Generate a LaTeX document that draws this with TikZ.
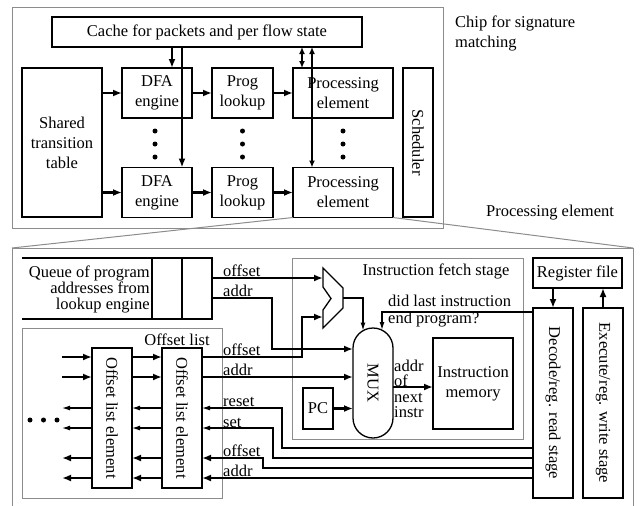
\documentclass[tikz,border=0pt]{standalone}
\usepackage{fontspec}
\setmainfont{Liberation Serif}
\usetikzlibrary{arrows.meta,calc}

\begin{document}
\begin{tikzpicture}[x=1pt,y=-1pt,
  font=\fontsize{16.5}{20}\selectfont,
  box/.style={draw,line width=1.3pt,inner sep=1pt,outer sep=0pt,align=center},
  outline/.style={line width=1.3pt},
  frame/.style={draw=black!45,line width=1pt,inner sep=0pt,outer sep=0pt},
  fat/.style={line width=2.4pt,-{Latex[length=9pt,width=7pt]}},
  fatboth/.style={line width=2.2pt,{Latex[length=7pt,width=6pt]}-{Latex[length=7pt,width=6pt]}},
  thin/.style={line width=1.2pt,-{Latex[length=8pt,width=5pt]}},
  lab/.style={inner sep=0pt,anchor=base west},
  tight/.style={font=\fontsize{16.5}{16}\selectfont},
]
\useasboundingbox (0,0) rectangle (643,506);

% ---------- chip overview ----------
\node[frame,minimum width=431pt,minimum height=221pt] (chip) at (227.5,117.5) {};
\node[box,minimum width=310pt,minimum height=30pt] (cache) at (207,32) {Cache for packets and per flow state};
\node[box,minimum width=80pt,minimum height=149pt] (stt) at (62,142.5) {Shared\\transition\\table};
\node[box,minimum width=70pt,minimum height=50pt] (dfa1) at (157,93) {DFA\\engine};
\node[box,minimum width=70pt,minimum height=50pt] (dfa2) at (157,192.5) {DFA\\engine};
\node[box,minimum width=61pt,minimum height=50pt] (prog1) at (242.5,93) {Prog\\lookup};
\node[box,minimum width=61pt,minimum height=50pt] (prog2) at (242.5,192.5) {Prog\\lookup};
\node[box,minimum width=100pt,minimum height=50pt] (pe1) at (343,93) {Processing\\element};
\node[box,minimum width=100pt,minimum height=50pt] (pe2) at (343,192.5) {Processing\\element};
\node[box,minimum width=30pt,minimum height=149pt] (sched) at (418,142.5) {};
\node[rotate=-90] at (sched) {Scheduler};

\foreach \x in {155,242.5,343}
  \foreach \y in {131,144,157}
    \fill (\x,\y) circle (2.5);

\draw[fat] (stt.east |- dfa1.west) -- (dfa1.west);
\draw[fat] (stt.east |- dfa2.west) -- (dfa2.west);
\draw[fat] (dfa1) -- (prog1);
\draw[fat] (dfa2) -- (prog2);
\draw[fat] (prog1) -- (pe1);
\draw[fat] (prog2) -- (pe2);

\coordinate (k1) at ($(dfa1.north)+(15,0)$);
\coordinate (k2) at ($(dfa2.north)+(25,0)$);
\coordinate (k3) at ($(pe1.north)+(-41,0)$);
\coordinate (k4) at ($(pe2.north)+(-31,0)$);
\draw[fat] (k1 |- cache.south) -- (k1);
\draw[fat] (k2 |- cache.south) -- (k2);
\draw[fatboth] (k3 |- cache.south) -- (k3);
\draw[fatboth] (k4 |- cache.south) -- (k4);

\node[anchor=west,align=left,inner sep=0pt] (chiplab) at (455,33) {Chip for signature\\matching};
\node[inner sep=0pt] (pelab) at (550,213) {Processing element};

% ---------- zoom into one processing element ----------
\coordinate (pnw) at (12,248);
\coordinate (pne) at (633,248);
\draw[frame] (pe2.south west) -- (pnw);
\draw[frame] (pe2.south east) -- (pne);
\draw[frame] (12,506) -- (pnw) -- (pne) -- (633,506);

% program address queue
\node[minimum width=190pt,minimum height=61pt,inner sep=0pt,outer sep=0pt] (queue) at (117,288.5) {};
\draw[outline] (queue.north west) -- (queue.north east) -- (queue.south east) -- (queue.south west);
\draw[outline] (queue.north east) ++(-30,0) -- ++(0,61);
\draw[outline] (queue.north east) ++(-60,0) -- ++(0,61);
\node[anchor=east,align=right,inner sep=0pt,tight] (queuetxt) at (150,289) {Queue of program\\addresses from\\lookup engine};

% instruction fetch stage
\node[frame,minimum width=231pt,minimum height=181pt] (ifs) at (407.5,348.5) {};
\node[inner sep=0pt] (ifslab) at (436,271) {Instruction fetch stage};

\draw[outline,fill=white] (323,268) -- (343,288) -- (343,308) -- (323,328) -- (323,310) -- (331,298.5) -- (323,287) -- cycle;
\coordinate (aluin1) at (323,278);
\coordinate (aluin2) at (323,317);
\coordinate (aluout) at (343,298);

\node[box,minimum width=40pt,minimum height=110pt,rounded corners=20pt] (mux) at (373,383) {};
\node[rotate=-90] at (mux) {MUX};
\node[box,minimum width=30pt,minimum height=41pt] (pc) at (318,408.5) {PC};
\node[box,minimum width=80pt,minimum height=91pt] (imem) at (473,383.5) {Instruction\\memory};
\node[anchor=west,align=left,inner sep=0pt,font=\fontsize{16.5}{15.5}\selectfont] (nextlab) at (394,389) {addr\\of\\next\\instr};
\node[anchor=west,align=left,inner sep=0pt,font=\fontsize{16.5}{17}\selectfont] (didlab) at (388,311) {did last instruction\\end program?};

% later pipeline stages
\node[box,minimum width=89pt,minimum height=30pt] (regfile) at (577.5,273) {Register file};
\node[box,minimum width=40pt,minimum height=190pt] (decode) at (553,403) {};
\node[rotate=-90] at (decode) {Decode/reg. read stage};
\node[box,minimum width=40pt,minimum height=190pt] (exec) at (603,403) {};
\node[rotate=-90] at (exec) {Execute/reg. write stage};
\draw[fat] (decode.north |- regfile.south) -- (decode.north);
\draw[fat] (exec.north) -- (exec.north |- regfile.south);

% offset list
\node[frame,minimum width=200pt,minimum height=170pt] (olist) at (122,413) {};
\node[inner sep=0pt] (olistlab) at (177,340) {Offset list};
\node[box,minimum width=40pt,minimum height=140pt] (ole1) at (112,418) {};
\node[rotate=-90] at (ole1) {Offset list element};
\node[box,minimum width=40pt,minimum height=140pt] (ole2) at (182,418) {};
\node[rotate=-90] at (ole2) {Offset list element};

\foreach \y/\n in {357/a,377/b} {
  \coordinate (le\n) at (62,\y);
  \draw[fat] (le\n) -- (ole1.west |- le\n);
  \draw[fat] (ole1.east |- le\n) -- (ole2.west |- le\n);
}
\foreach \y/\n/\s in {408/c/thin,428/d/thin,458/e/fat,478/f/fat} {
  \coordinate (le\n) at (62,\y);
  \draw[\s] (ole1.west |- le\n) -- (le\n);
  \draw[\s] (ole2.west |- le\n) -- (ole1.east |- le\n);
}
\foreach \x in {30,43.5,57}
  \fill (\x,420) circle (2.5);

% connections into the fetch stage
\draw[fat] (queue.east |- aluin1) -- (aluin1);
\draw[fat] (queue.east |- 0,298) -- (272,298) -- (272,349) -- (mux.west |- 0,349);
\draw[fat] (ole2.east |- lea) -- (302,357) -- (302,317) -- (aluin2);
\draw[fat] (ole2.east |- leb) -- (mux.west |- leb);
\draw[fat] (pc) -- (mux.west |- pc);
\draw[fat] (mux.east |- 0,387) -- (imem.west |- 0,387);
\draw[thin] (aluout) -- (363,298) -- (363,330.5);
\draw[thin] (decode.west |- 0,312) -- (382,312) -- (382,330);

% feedback from decode stage to the offset list
\draw[thin] (decode.west |- 0,448) -- (282,448) -- (282,408) -- (ole2.east |- lec);
\draw[thin] (decode.west |- 0,458) -- (273,458) -- (273,428) -- (ole2.east |- led);
\draw[fat] (decode.west |- 0,468) -- (263,468) -- (263,458) -- (ole2.east |- lee);
\draw[fat] (decode.west |- 0,478) -- (ole2.east |- lef);

% signal labels
\node[lab] at (223,276) {offset};
\node[lab] at (223,296) {addr};
\node[lab] at (223,355) {offset};
\node[lab] at (223,375) {addr};
\node[lab] at (223,406) {reset};
\node[lab] at (223,427) {set};
\node[lab] at (223,456) {offset};
\node[lab] at (223,476) {addr};
\end{tikzpicture}
\end{document}
